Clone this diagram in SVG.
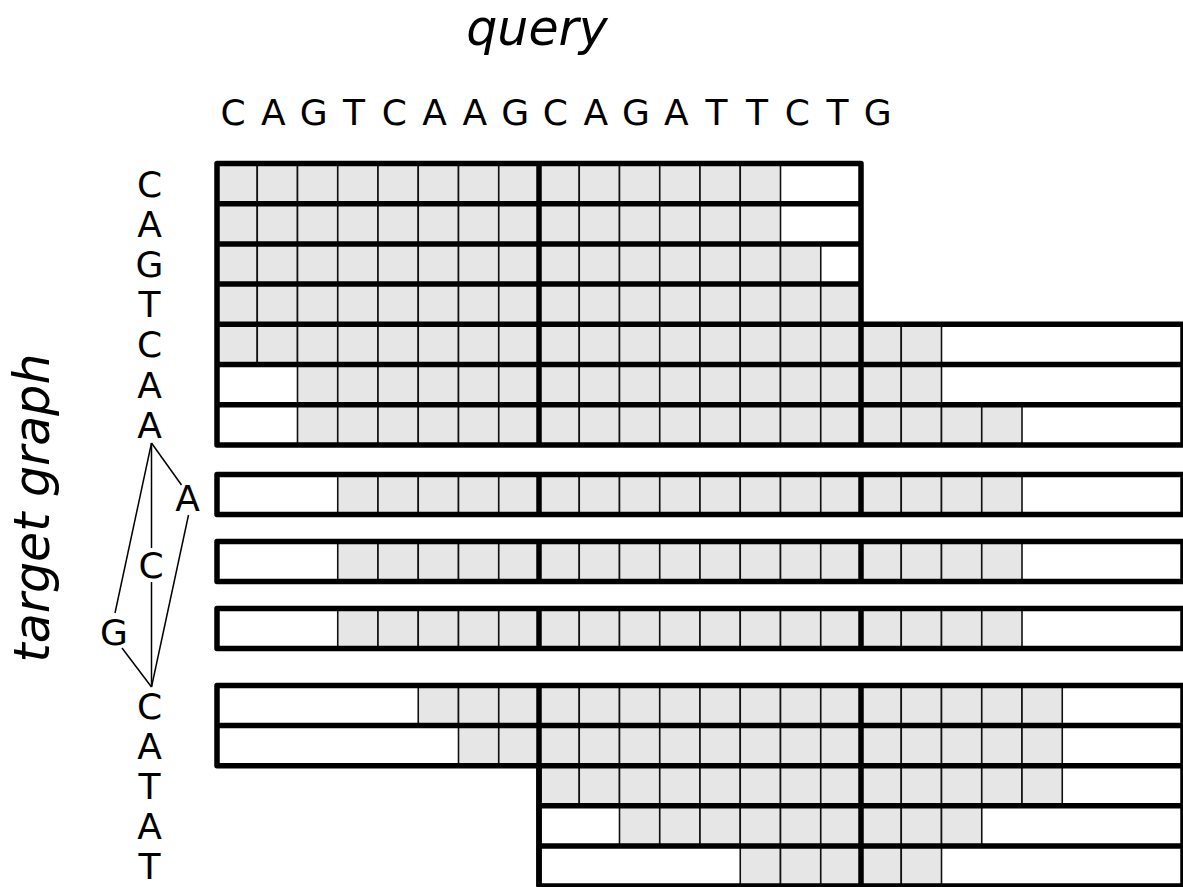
<svg xmlns="http://www.w3.org/2000/svg" width="1183" height="887" viewBox="0 0 1183 887">
<style>
.lbl{font-family:"DejaVu Sans","Liberation Sans",sans-serif;font-size:36px;fill:#000;text-anchor:middle}
.title{font-family:"DejaVu Sans","Liberation Sans",sans-serif;font-size:49px;font-style:italic;fill:#000;text-anchor:middle}
.cells rect{fill:#e6e6e6;stroke:#111;stroke-width:1.6}
.bg{fill:#fff;stroke:none}
.thick{fill:none;stroke:#000;stroke-width:5.5;stroke-linejoin:round}
.edge{fill:none;stroke:#000;stroke-width:1.5}
</style>
<rect width="1183" height="887" fill="#fff"/>
<text class="title" x="537" y="45">query</text>
<text class="title" transform="translate(49,508) rotate(-90)">target graph</text>
<g id="query-seq">
<text class="lbl" x="233" y="125">C</text>
<text class="lbl" x="273.3" y="125">A</text>
<text class="lbl" x="313.6" y="125">G</text>
<text class="lbl" x="353.9" y="125">T</text>
<text class="lbl" x="394.2" y="125">C</text>
<text class="lbl" x="434.5" y="125">A</text>
<text class="lbl" x="474.8" y="125">A</text>
<text class="lbl" x="515.1" y="125">G</text>
<text class="lbl" x="555.4" y="125">C</text>
<text class="lbl" x="595.7" y="125">A</text>
<text class="lbl" x="636" y="125">G</text>
<text class="lbl" x="676.3" y="125">A</text>
<text class="lbl" x="716.6" y="125">T</text>
<text class="lbl" x="756.9" y="125">T</text>
<text class="lbl" x="797.2" y="125">C</text>
<text class="lbl" x="837.5" y="125">T</text>
<text class="lbl" x="877.8" y="125">G</text>
</g>
<g id="target-labels">
<text class="lbl" x="149.5" y="196.6">C</text>
<text class="lbl" x="149.5" y="236.8">A</text>
<text class="lbl" x="149.5" y="277">G</text>
<text class="lbl" x="149.5" y="317.2">T</text>
<text class="lbl" x="149.5" y="357.4">C</text>
<text class="lbl" x="149.5" y="397.6">A</text>
<text class="lbl" x="149.5" y="437.8">A</text>
<text class="lbl" x="187.5" y="511">A</text>
<text class="lbl" x="151" y="578">C</text>
<text class="lbl" x="114" y="645">G</text>
<text class="lbl" x="149.5" y="718.5">C</text>
<text class="lbl" x="149.5" y="758.6">A</text>
<text class="lbl" x="149.5" y="798.7">T</text>
<text class="lbl" x="149.5" y="838.8">A</text>
<text class="lbl" x="149.5" y="879">T</text>
</g>
<g id="graph-edges">
<line class="edge" x1="151.5" y1="443" x2="181.5" y2="485"/>
<line class="edge" x1="151.5" y1="443" x2="151.5" y2="548"/>
<line class="edge" x1="151.5" y1="443" x2="115" y2="613"/>
<line class="edge" x1="151.5" y1="582" x2="151.5" y2="687"/>
<line class="edge" x1="122" y1="648" x2="151.5" y2="687"/>
<line class="edge" x1="188.5" y1="515" x2="151.5" y2="687"/>
</g>
<g id="block-top">
<path class="bg" d="M217,163.5H861V324.3H1183V444.9H217Z"/>
<g class="cells">
<g transform="translate(0,163.5)">
<rect x="217" width="40.25" height="40.2"/><rect x="257.25" width="40.25" height="40.2"/><rect x="297.5" width="40.25" height="40.2"/><rect x="337.75" width="40.25" height="40.2"/><rect x="378" width="40.25" height="40.2"/><rect x="418.25" width="40.25" height="40.2"/><rect x="458.5" width="40.25" height="40.2"/><rect x="498.75" width="40.25" height="40.2"/><rect x="539" width="40.25" height="40.2"/><rect x="579.25" width="40.25" height="40.2"/><rect x="619.5" width="40.25" height="40.2"/><rect x="659.75" width="40.25" height="40.2"/><rect x="700" width="40.25" height="40.2"/><rect x="740.25" width="40.25" height="40.2"/>
</g>
<g transform="translate(0,203.7)">
<rect x="217" width="40.25" height="40.2"/><rect x="257.25" width="40.25" height="40.2"/><rect x="297.5" width="40.25" height="40.2"/><rect x="337.75" width="40.25" height="40.2"/><rect x="378" width="40.25" height="40.2"/><rect x="418.25" width="40.25" height="40.2"/><rect x="458.5" width="40.25" height="40.2"/><rect x="498.75" width="40.25" height="40.2"/><rect x="539" width="40.25" height="40.2"/><rect x="579.25" width="40.25" height="40.2"/><rect x="619.5" width="40.25" height="40.2"/><rect x="659.75" width="40.25" height="40.2"/><rect x="700" width="40.25" height="40.2"/><rect x="740.25" width="40.25" height="40.2"/>
</g>
<g transform="translate(0,243.9)">
<rect x="217" width="40.25" height="40.2"/><rect x="257.25" width="40.25" height="40.2"/><rect x="297.5" width="40.25" height="40.2"/><rect x="337.75" width="40.25" height="40.2"/><rect x="378" width="40.25" height="40.2"/><rect x="418.25" width="40.25" height="40.2"/><rect x="458.5" width="40.25" height="40.2"/><rect x="498.75" width="40.25" height="40.2"/><rect x="539" width="40.25" height="40.2"/><rect x="579.25" width="40.25" height="40.2"/><rect x="619.5" width="40.25" height="40.2"/><rect x="659.75" width="40.25" height="40.2"/><rect x="700" width="40.25" height="40.2"/><rect x="740.25" width="40.25" height="40.2"/><rect x="780.5" width="40.25" height="40.2"/>
</g>
<g transform="translate(0,284.1)">
<rect x="217" width="40.25" height="40.2"/><rect x="257.25" width="40.25" height="40.2"/><rect x="297.5" width="40.25" height="40.2"/><rect x="337.75" width="40.25" height="40.2"/><rect x="378" width="40.25" height="40.2"/><rect x="418.25" width="40.25" height="40.2"/><rect x="458.5" width="40.25" height="40.2"/><rect x="498.75" width="40.25" height="40.2"/><rect x="539" width="40.25" height="40.2"/><rect x="579.25" width="40.25" height="40.2"/><rect x="619.5" width="40.25" height="40.2"/><rect x="659.75" width="40.25" height="40.2"/><rect x="700" width="40.25" height="40.2"/><rect x="740.25" width="40.25" height="40.2"/><rect x="780.5" width="40.25" height="40.2"/><rect x="820.75" width="40.25" height="40.2"/>
</g>
<g transform="translate(0,324.3)">
<rect x="217" width="40.25" height="40.2"/><rect x="257.25" width="40.25" height="40.2"/><rect x="297.5" width="40.25" height="40.2"/><rect x="337.75" width="40.25" height="40.2"/><rect x="378" width="40.25" height="40.2"/><rect x="418.25" width="40.25" height="40.2"/><rect x="458.5" width="40.25" height="40.2"/><rect x="498.75" width="40.25" height="40.2"/><rect x="539" width="40.25" height="40.2"/><rect x="579.25" width="40.25" height="40.2"/><rect x="619.5" width="40.25" height="40.2"/><rect x="659.75" width="40.25" height="40.2"/><rect x="700" width="40.25" height="40.2"/><rect x="740.25" width="40.25" height="40.2"/><rect x="780.5" width="40.25" height="40.2"/><rect x="820.75" width="40.25" height="40.2"/><rect x="861" width="40.25" height="40.2"/><rect x="901.25" width="40.25" height="40.2"/>
</g>
<g transform="translate(0,364.5)">
<rect x="297.5" width="40.25" height="40.2"/><rect x="337.75" width="40.25" height="40.2"/><rect x="378" width="40.25" height="40.2"/><rect x="418.25" width="40.25" height="40.2"/><rect x="458.5" width="40.25" height="40.2"/><rect x="498.75" width="40.25" height="40.2"/><rect x="539" width="40.25" height="40.2"/><rect x="579.25" width="40.25" height="40.2"/><rect x="619.5" width="40.25" height="40.2"/><rect x="659.75" width="40.25" height="40.2"/><rect x="700" width="40.25" height="40.2"/><rect x="740.25" width="40.25" height="40.2"/><rect x="780.5" width="40.25" height="40.2"/><rect x="820.75" width="40.25" height="40.2"/><rect x="861" width="40.25" height="40.2"/><rect x="901.25" width="40.25" height="40.2"/>
</g>
<g transform="translate(0,404.7)">
<rect x="297.5" width="40.25" height="40.2"/><rect x="337.75" width="40.25" height="40.2"/><rect x="378" width="40.25" height="40.2"/><rect x="418.25" width="40.25" height="40.2"/><rect x="458.5" width="40.25" height="40.2"/><rect x="498.75" width="40.25" height="40.2"/><rect x="539" width="40.25" height="40.2"/><rect x="579.25" width="40.25" height="40.2"/><rect x="619.5" width="40.25" height="40.2"/><rect x="659.75" width="40.25" height="40.2"/><rect x="700" width="40.25" height="40.2"/><rect x="740.25" width="40.25" height="40.2"/><rect x="780.5" width="40.25" height="40.2"/><rect x="820.75" width="40.25" height="40.2"/><rect x="861" width="40.25" height="40.2"/><rect x="901.25" width="40.25" height="40.2"/><rect x="941.5" width="40.25" height="40.2"/><rect x="981.75" width="40.25" height="40.2"/>
</g>
</g>
<path class="thick" d="M217,163.5H861V324.3H1183V444.9H217Z"/>
<path class="thick" d="M217,203.7H861M217,243.9H861M217,284.1H861M217,324.3H861M217,364.5H1183M217,404.7H1183M539,163.5V444.9M861,324.3V444.9"/>
</g>
<g id="row-A">
<rect class="bg" x="217" y="474.5" width="966" height="40"/>
<g class="cells" transform="translate(0,474.5)">
<rect x="337.75" width="40.25" height="40"/><rect x="378" width="40.25" height="40"/><rect x="418.25" width="40.25" height="40"/><rect x="458.5" width="40.25" height="40"/><rect x="498.75" width="40.25" height="40"/><rect x="539" width="40.25" height="40"/><rect x="579.25" width="40.25" height="40"/><rect x="619.5" width="40.25" height="40"/><rect x="659.75" width="40.25" height="40"/><rect x="700" width="40.25" height="40"/><rect x="740.25" width="40.25" height="40"/><rect x="780.5" width="40.25" height="40"/><rect x="820.75" width="40.25" height="40"/><rect x="861" width="40.25" height="40"/><rect x="901.25" width="40.25" height="40"/><rect x="941.5" width="40.25" height="40"/><rect x="981.75" width="40.25" height="40"/>
</g>
<path class="thick" d="M217,474.5H1183V514.5H217ZM539,474.5V514.5M861,474.5V514.5"/>
</g>
<g id="row-C">
<rect class="bg" x="217" y="541.5" width="966" height="40"/>
<g class="cells" transform="translate(0,541.5)">
<rect x="337.75" width="40.25" height="40"/><rect x="378" width="40.25" height="40"/><rect x="418.25" width="40.25" height="40"/><rect x="458.5" width="40.25" height="40"/><rect x="498.75" width="40.25" height="40"/><rect x="539" width="40.25" height="40"/><rect x="579.25" width="40.25" height="40"/><rect x="619.5" width="40.25" height="40"/><rect x="659.75" width="40.25" height="40"/><rect x="700" width="40.25" height="40"/><rect x="740.25" width="40.25" height="40"/><rect x="780.5" width="40.25" height="40"/><rect x="820.75" width="40.25" height="40"/><rect x="861" width="40.25" height="40"/><rect x="901.25" width="40.25" height="40"/><rect x="941.5" width="40.25" height="40"/><rect x="981.75" width="40.25" height="40"/>
</g>
<path class="thick" d="M217,541.5H1183V581.5H217ZM539,541.5V581.5M861,541.5V581.5"/>
</g>
<g id="row-G">
<rect class="bg" x="217" y="608.5" width="966" height="40"/>
<g class="cells" transform="translate(0,608.5)">
<rect x="337.75" width="40.25" height="40"/><rect x="378" width="40.25" height="40"/><rect x="418.25" width="40.25" height="40"/><rect x="458.5" width="40.25" height="40"/><rect x="498.75" width="40.25" height="40"/><rect x="539" width="40.25" height="40"/><rect x="579.25" width="40.25" height="40"/><rect x="619.5" width="40.25" height="40"/><rect x="659.75" width="40.25" height="40"/><rect x="700" width="40.25" height="40"/><rect x="740.25" width="40.25" height="40"/><rect x="780.5" width="40.25" height="40"/><rect x="820.75" width="40.25" height="40"/><rect x="861" width="40.25" height="40"/><rect x="901.25" width="40.25" height="40"/><rect x="941.5" width="40.25" height="40"/><rect x="981.75" width="40.25" height="40"/>
</g>
<path class="thick" d="M217,608.5H1183V648.5H217ZM539,608.5V648.5M861,608.5V648.5"/>
</g>
<g id="block-bottom">
<path class="bg" d="M217,685.5H1183V886H539V765.7H217Z"/>
<g class="cells">
<g transform="translate(0,685.5)">
<rect x="418.25" width="40.25" height="40.1"/><rect x="458.5" width="40.25" height="40.1"/><rect x="498.75" width="40.25" height="40.1"/><rect x="539" width="40.25" height="40.1"/><rect x="579.25" width="40.25" height="40.1"/><rect x="619.5" width="40.25" height="40.1"/><rect x="659.75" width="40.25" height="40.1"/><rect x="700" width="40.25" height="40.1"/><rect x="740.25" width="40.25" height="40.1"/><rect x="780.5" width="40.25" height="40.1"/><rect x="820.75" width="40.25" height="40.1"/><rect x="861" width="40.25" height="40.1"/><rect x="901.25" width="40.25" height="40.1"/><rect x="941.5" width="40.25" height="40.1"/><rect x="981.75" width="40.25" height="40.1"/><rect x="1022" width="40.25" height="40.1"/>
</g>
<g transform="translate(0,725.6)">
<rect x="458.5" width="40.25" height="40.1"/><rect x="498.75" width="40.25" height="40.1"/><rect x="539" width="40.25" height="40.1"/><rect x="579.25" width="40.25" height="40.1"/><rect x="619.5" width="40.25" height="40.1"/><rect x="659.75" width="40.25" height="40.1"/><rect x="700" width="40.25" height="40.1"/><rect x="740.25" width="40.25" height="40.1"/><rect x="780.5" width="40.25" height="40.1"/><rect x="820.75" width="40.25" height="40.1"/><rect x="861" width="40.25" height="40.1"/><rect x="901.25" width="40.25" height="40.1"/><rect x="941.5" width="40.25" height="40.1"/><rect x="981.75" width="40.25" height="40.1"/><rect x="1022" width="40.25" height="40.1"/>
</g>
<g transform="translate(0,765.7)">
<rect x="539" width="40.25" height="40.1"/><rect x="579.25" width="40.25" height="40.1"/><rect x="619.5" width="40.25" height="40.1"/><rect x="659.75" width="40.25" height="40.1"/><rect x="700" width="40.25" height="40.1"/><rect x="740.25" width="40.25" height="40.1"/><rect x="780.5" width="40.25" height="40.1"/><rect x="820.75" width="40.25" height="40.1"/><rect x="861" width="40.25" height="40.1"/><rect x="901.25" width="40.25" height="40.1"/><rect x="941.5" width="40.25" height="40.1"/><rect x="981.75" width="40.25" height="40.1"/><rect x="1022" width="40.25" height="40.1"/>
</g>
<g transform="translate(0,805.8)">
<rect x="619.5" width="40.25" height="40.1"/><rect x="659.75" width="40.25" height="40.1"/><rect x="700" width="40.25" height="40.1"/><rect x="740.25" width="40.25" height="40.1"/><rect x="780.5" width="40.25" height="40.1"/><rect x="820.75" width="40.25" height="40.1"/><rect x="861" width="40.25" height="40.1"/><rect x="901.25" width="40.25" height="40.1"/><rect x="941.5" width="40.25" height="40.1"/>
</g>
<g transform="translate(0,845.9)">
<rect x="740.25" width="40.25" height="40.1"/><rect x="780.5" width="40.25" height="40.1"/><rect x="820.75" width="40.25" height="40.1"/><rect x="861" width="40.25" height="40.1"/><rect x="901.25" width="40.25" height="40.1"/>
</g>
</g>
<path class="thick" d="M217,685.5H1183V886H539V765.7H217Z"/>
<path class="thick" d="M217,725.6H1183M539,765.7H1183M539,805.8H1183M539,845.9H1183M539,685.5V886M861,685.5V886"/>
</g>
</svg>
